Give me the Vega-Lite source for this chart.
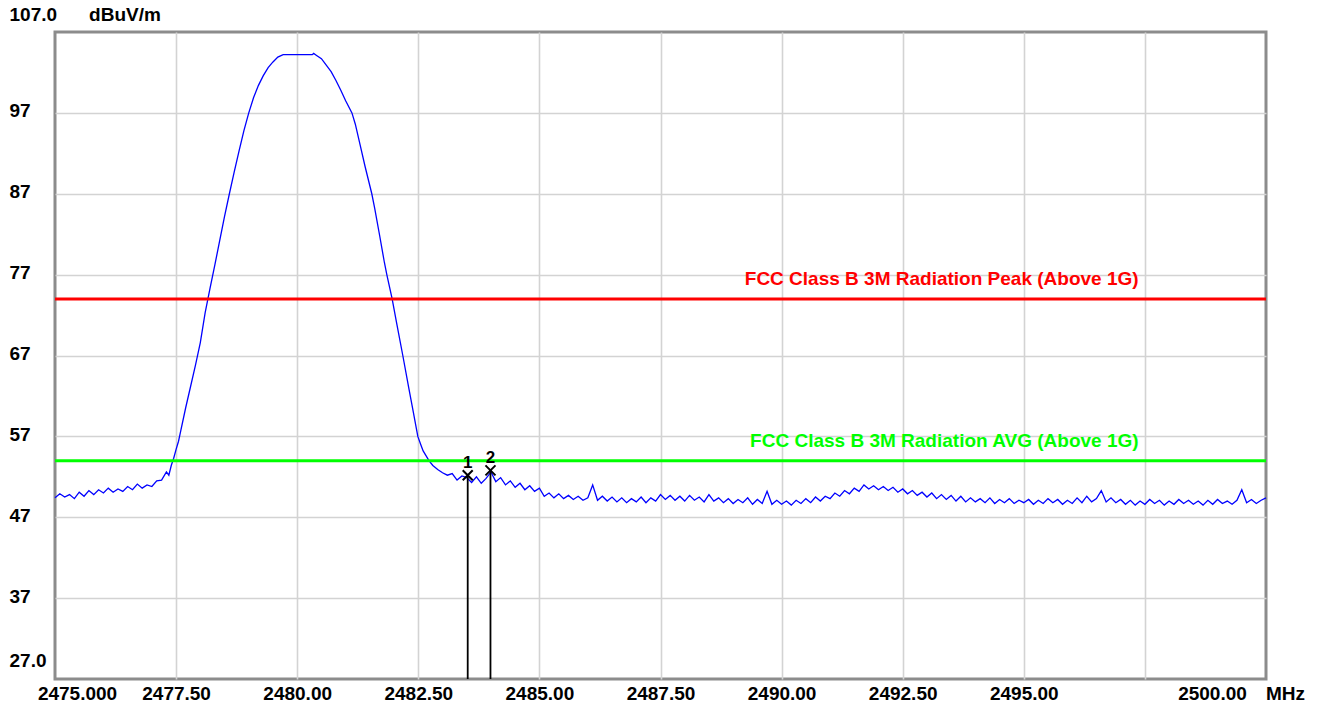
{
  "$schema": "https://vega.github.io/schema/vega-lite/v6.json",
  "width": 1211,
  "height": 647,
  "autosize": {"type": "none"},
  "padding": {"left": 55, "top": 32, "right": 57, "bottom": 25},
  "background": "white",
  "config": {
    "view": {"stroke": "#8c8c8c", "strokeWidth": 3},
    "font": "Liberation Sans"
  },
  "datasets": {
    "trace": [
      {"f": 2475.0, "v": 49.4}, {"f": 2475.1, "v": 49.9}, {"f": 2475.2, "v": 49.5}, {"f": 2475.3, "v": 49.8},
      {"f": 2475.4, "v": 49.3}, {"f": 2475.5, "v": 50.1}, {"f": 2475.6, "v": 49.6}, {"f": 2475.7, "v": 50.3},
      {"f": 2475.8, "v": 49.8}, {"f": 2475.9, "v": 50.4}, {"f": 2476.0, "v": 50.0}, {"f": 2476.1, "v": 50.6},
      {"f": 2476.2, "v": 50.1}, {"f": 2476.3, "v": 50.5}, {"f": 2476.4, "v": 50.2}, {"f": 2476.5, "v": 50.8},
      {"f": 2476.6, "v": 50.4}, {"f": 2476.7, "v": 51.1}, {"f": 2476.8, "v": 50.6}, {"f": 2476.9, "v": 51.0},
      {"f": 2477.0, "v": 50.8}, {"f": 2477.1, "v": 51.5}, {"f": 2477.2, "v": 51.6}, {"f": 2477.3, "v": 52.6},
      {"f": 2477.35, "v": 52.2}, {"f": 2477.4, "v": 53.4}, {"f": 2477.45, "v": 54.3}, {"f": 2477.5, "v": 55.4},
      {"f": 2477.55, "v": 56.4}, {"f": 2477.6, "v": 57.8}, {"f": 2477.7, "v": 60.6}, {"f": 2477.8, "v": 63.2},
      {"f": 2477.9, "v": 65.8}, {"f": 2478.0, "v": 68.6}, {"f": 2478.1, "v": 72.3}, {"f": 2478.2, "v": 75.3},
      {"f": 2478.3, "v": 78.2}, {"f": 2478.4, "v": 81.2}, {"f": 2478.5, "v": 84.2}, {"f": 2478.6, "v": 87.0},
      {"f": 2478.7, "v": 89.7}, {"f": 2478.8, "v": 92.3}, {"f": 2478.9, "v": 94.8}, {"f": 2479.0, "v": 97.0},
      {"f": 2479.1, "v": 98.9}, {"f": 2479.2, "v": 100.4}, {"f": 2479.3, "v": 101.6}, {"f": 2479.4, "v": 102.6},
      {"f": 2479.5, "v": 103.3}, {"f": 2479.6, "v": 103.9}, {"f": 2479.71, "v": 104.2}, {"f": 2480.0, "v": 104.2},
      {"f": 2480.31, "v": 104.2}, {"f": 2480.34, "v": 104.35}, {"f": 2480.4, "v": 104.1}, {"f": 2480.5, "v": 103.7},
      {"f": 2480.6, "v": 102.9}, {"f": 2480.7, "v": 102.1}, {"f": 2480.8, "v": 101.0}, {"f": 2480.9, "v": 99.8},
      {"f": 2481.0, "v": 98.5}, {"f": 2481.13, "v": 97.0}, {"f": 2481.2, "v": 95.6}, {"f": 2481.3, "v": 93.0},
      {"f": 2481.4, "v": 90.4}, {"f": 2481.54, "v": 87.0}, {"f": 2481.6, "v": 85.2}, {"f": 2481.7, "v": 81.9},
      {"f": 2481.8, "v": 78.5}, {"f": 2481.85, "v": 77.0}, {"f": 2481.96, "v": 74.0}, {"f": 2482.05, "v": 71.1},
      {"f": 2482.18, "v": 67.0}, {"f": 2482.3, "v": 63.1}, {"f": 2482.4, "v": 59.9}, {"f": 2482.49, "v": 57.0},
      {"f": 2482.55, "v": 56.0}, {"f": 2482.6, "v": 55.2}, {"f": 2482.72, "v": 54.0}, {"f": 2482.8, "v": 53.4},
      {"f": 2482.9, "v": 52.9}, {"f": 2483.0, "v": 52.5}, {"f": 2483.1, "v": 52.2}, {"f": 2483.2, "v": 52.4},
      {"f": 2483.3, "v": 51.6}, {"f": 2483.4, "v": 52.1}, {"f": 2483.5, "v": 51.9}, {"f": 2483.6, "v": 51.3},
      {"f": 2483.7, "v": 52.0}, {"f": 2483.8, "v": 51.2}, {"f": 2483.9, "v": 51.8}, {"f": 2484.0, "v": 52.6},
      {"f": 2484.1, "v": 51.4}, {"f": 2484.2, "v": 51.9}, {"f": 2484.3, "v": 51.0}, {"f": 2484.4, "v": 51.5},
      {"f": 2484.5, "v": 50.7}, {"f": 2484.6, "v": 51.2}, {"f": 2484.7, "v": 50.4}, {"f": 2484.8, "v": 50.9},
      {"f": 2484.9, "v": 50.2}, {"f": 2485.0, "v": 50.6}, {"f": 2485.1, "v": 49.6}, {"f": 2485.2, "v": 50.0},
      {"f": 2485.3, "v": 49.4}, {"f": 2485.4, "v": 49.9}, {"f": 2485.5, "v": 49.3}, {"f": 2485.6, "v": 49.7},
      {"f": 2485.7, "v": 49.2}, {"f": 2485.8, "v": 49.6}, {"f": 2485.9, "v": 49.1}, {"f": 2486.0, "v": 49.4},
      {"f": 2486.1, "v": 51.0}, {"f": 2486.2, "v": 49.1}, {"f": 2486.3, "v": 49.6}, {"f": 2486.4, "v": 49.0},
      {"f": 2486.5, "v": 49.5}, {"f": 2486.6, "v": 48.9}, {"f": 2486.7, "v": 49.4}, {"f": 2486.8, "v": 48.8},
      {"f": 2486.9, "v": 49.3}, {"f": 2487.0, "v": 48.9}, {"f": 2487.1, "v": 49.5}, {"f": 2487.2, "v": 48.8},
      {"f": 2487.3, "v": 49.4}, {"f": 2487.4, "v": 49.0}, {"f": 2487.5, "v": 49.8}, {"f": 2487.6, "v": 49.2},
      {"f": 2487.7, "v": 49.7}, {"f": 2487.8, "v": 49.1}, {"f": 2487.9, "v": 49.6}, {"f": 2488.0, "v": 49.0},
      {"f": 2488.1, "v": 49.7}, {"f": 2488.2, "v": 49.1}, {"f": 2488.3, "v": 49.5}, {"f": 2488.4, "v": 48.9},
      {"f": 2488.5, "v": 49.8}, {"f": 2488.6, "v": 49.0}, {"f": 2488.7, "v": 49.4}, {"f": 2488.8, "v": 48.8},
      {"f": 2488.9, "v": 49.3}, {"f": 2489.0, "v": 48.7}, {"f": 2489.1, "v": 49.2}, {"f": 2489.2, "v": 48.8},
      {"f": 2489.3, "v": 49.4}, {"f": 2489.4, "v": 48.6}, {"f": 2489.5, "v": 49.2}, {"f": 2489.6, "v": 48.7},
      {"f": 2489.7, "v": 50.2}, {"f": 2489.8, "v": 48.6}, {"f": 2489.9, "v": 49.1}, {"f": 2490.0, "v": 48.6},
      {"f": 2490.1, "v": 49.0}, {"f": 2490.2, "v": 48.5}, {"f": 2490.3, "v": 49.1}, {"f": 2490.4, "v": 48.7},
      {"f": 2490.5, "v": 49.3}, {"f": 2490.6, "v": 48.8}, {"f": 2490.7, "v": 49.5}, {"f": 2490.8, "v": 49.0},
      {"f": 2490.9, "v": 49.6}, {"f": 2491.0, "v": 49.3}, {"f": 2491.1, "v": 50.0}, {"f": 2491.2, "v": 49.6},
      {"f": 2491.3, "v": 50.3}, {"f": 2491.4, "v": 49.9}, {"f": 2491.5, "v": 50.6}, {"f": 2491.6, "v": 50.2},
      {"f": 2491.7, "v": 51.0}, {"f": 2491.8, "v": 50.5}, {"f": 2491.9, "v": 50.9}, {"f": 2492.0, "v": 50.4},
      {"f": 2492.1, "v": 50.8}, {"f": 2492.2, "v": 50.3}, {"f": 2492.3, "v": 50.7}, {"f": 2492.4, "v": 50.1},
      {"f": 2492.5, "v": 50.5}, {"f": 2492.6, "v": 49.9}, {"f": 2492.7, "v": 50.3}, {"f": 2492.8, "v": 49.7},
      {"f": 2492.9, "v": 50.1}, {"f": 2493.0, "v": 49.5}, {"f": 2493.1, "v": 50.0}, {"f": 2493.2, "v": 49.3},
      {"f": 2493.3, "v": 49.8}, {"f": 2493.4, "v": 49.2}, {"f": 2493.5, "v": 49.7}, {"f": 2493.6, "v": 49.0},
      {"f": 2493.7, "v": 49.6}, {"f": 2493.8, "v": 48.9}, {"f": 2493.9, "v": 49.4}, {"f": 2494.0, "v": 48.9},
      {"f": 2494.1, "v": 49.3}, {"f": 2494.2, "v": 48.8}, {"f": 2494.3, "v": 49.4}, {"f": 2494.4, "v": 48.7},
      {"f": 2494.5, "v": 49.2}, {"f": 2494.6, "v": 48.8}, {"f": 2494.7, "v": 49.3}, {"f": 2494.8, "v": 48.7},
      {"f": 2494.9, "v": 49.1}, {"f": 2495.0, "v": 48.8}, {"f": 2495.1, "v": 49.2}, {"f": 2495.2, "v": 48.6},
      {"f": 2495.3, "v": 49.1}, {"f": 2495.4, "v": 48.7}, {"f": 2495.5, "v": 49.3}, {"f": 2495.6, "v": 48.8},
      {"f": 2495.7, "v": 49.2}, {"f": 2495.8, "v": 48.6}, {"f": 2495.9, "v": 49.1}, {"f": 2496.0, "v": 48.7},
      {"f": 2496.1, "v": 49.4}, {"f": 2496.2, "v": 48.8}, {"f": 2496.3, "v": 49.6}, {"f": 2496.4, "v": 48.9},
      {"f": 2496.5, "v": 49.3}, {"f": 2496.6, "v": 50.3}, {"f": 2496.7, "v": 48.9}, {"f": 2496.8, "v": 49.4},
      {"f": 2496.9, "v": 48.8}, {"f": 2497.0, "v": 49.2}, {"f": 2497.1, "v": 48.6}, {"f": 2497.2, "v": 49.1},
      {"f": 2497.3, "v": 48.5}, {"f": 2497.4, "v": 49.0}, {"f": 2497.5, "v": 48.6}, {"f": 2497.6, "v": 49.2},
      {"f": 2497.7, "v": 48.7}, {"f": 2497.8, "v": 49.1}, {"f": 2497.9, "v": 48.5}, {"f": 2498.0, "v": 49.0},
      {"f": 2498.1, "v": 48.6}, {"f": 2498.2, "v": 49.2}, {"f": 2498.3, "v": 48.7}, {"f": 2498.4, "v": 49.1},
      {"f": 2498.5, "v": 48.6}, {"f": 2498.6, "v": 49.0}, {"f": 2498.7, "v": 48.5}, {"f": 2498.8, "v": 49.1},
      {"f": 2498.9, "v": 48.6}, {"f": 2499.0, "v": 49.2}, {"f": 2499.1, "v": 48.7}, {"f": 2499.2, "v": 49.0},
      {"f": 2499.3, "v": 48.6}, {"f": 2499.4, "v": 49.1}, {"f": 2499.5, "v": 50.4}, {"f": 2499.6, "v": 48.8},
      {"f": 2499.7, "v": 49.2}, {"f": 2499.8, "v": 48.7}, {"f": 2499.9, "v": 49.1}, {"f": 2500.0, "v": 49.4}
    ],
    "limits": [
      {"name": "FCC Class B 3M Radiation Peak (Above 1G)", "limit": 74},
      {"name": "FCC Class B 3M Radiation AVG (Above 1G)", "limit": 54}
    ],
    "markers": [
      {"marker": "1", "f": 2483.52, "v": 52.2},
      {"marker": "2", "f": 2483.99, "v": 52.8}
    ]
  },
  "layer": [
    {
      "data": {"name": "trace"},
      "mark": {"type": "line", "color": "#0000ff", "strokeWidth": 1.3},
      "encoding": {
        "x": {
          "field": "f", "type": "quantitative",
          "scale": {"domain": [2475, 2500], "nice": false, "zero": false},
          "axis": {
            "values": [2475, 2477.5, 2480, 2482.5, 2485, 2487.5, 2490, 2492.5, 2495, 2497.5, 2500],
            "labelExpr": "datum.value == 2475 ? '2475.000' : (datum.value == 2497.5 ? '' : format(datum.value, '.2f'))",
            "labelOffset": {"condition": [{"test": "datum.value == 2475", "value": 22}, {"test": "datum.value == 2500", "value": -54}], "value": 0},
            "labelFlush": false,
            "labelOverlap": false,
            "tickSize": 0,
            "ticks": false,
            "domain": false,
            "labelPadding": 5,
            "labelBaseline": "top",
            "labelFont": "Liberation Sans",
            "labelFontSize": 19,
            "labelFontWeight": "bold",
            "labelColor": "#000000",
            "gridColor": "#d3d3d3",
            "gridWidth": 1.6,
            "gridOpacity": {"condition": {"test": "datum.value == 2475 || datum.value == 2500", "value": 0}, "value": 1},
            "title": "MHz",
            "titleX": 1230,
            "titleY": 5,
            "titleAlign": "center",
            "titleBaseline": "top",
            "titleFont": "Liberation Sans",
            "titleFontSize": 19,
            "titleFontWeight": "bold",
            "titleColor": "#000000"
          }
        },
        "y": {
          "field": "v", "type": "quantitative",
          "scale": {"domain": [27, 107], "nice": false, "zero": false},
          "axis": {
            "values": [27, 37, 47, 57, 67, 77, 87, 97, 107],
            "labelExpr": "datum.value == 27 ? '27.0' : (datum.value == 107 ? '107.0' : format(datum.value, 'd'))",
            "labelOffset": {"condition": [{"test": "datum.value == 27", "value": -19}, {"test": "datum.value == 107", "value": -18}], "value": -2},
            "labelAlign": "left",
            "labelBaseline": "middle",
            "labelPadding": 46,
            "tickSize": 0,
            "ticks": false,
            "domain": false,
            "labelFont": "Liberation Sans",
            "labelFontSize": 19,
            "labelFontWeight": "bold",
            "labelColor": "#000000",
            "gridColor": "#d3d3d3",
            "gridWidth": 1.6,
            "gridOpacity": {"condition": {"test": "datum.value == 27 || datum.value == 107", "value": 0}, "value": 1},
            "title": "dBuV/m",
            "titleAngle": 0,
            "titleX": 69.5,
            "titleY": -18,
            "titleAlign": "center",
            "titleBaseline": "middle",
            "titleFont": "Liberation Sans",
            "titleFontSize": 19,
            "titleFontWeight": "bold",
            "titleColor": "#000000"
          }
        }
      }
    },
    {
      "data": {"name": "limits"},
      "mark": {"type": "rule", "strokeWidth": 3},
      "encoding": {
        "y": {"field": "limit", "type": "quantitative"},
        "color": {"field": "name", "type": "nominal", "legend": null,
          "scale": {"domain": ["FCC Class B 3M Radiation Peak (Above 1G)", "FCC Class B 3M Radiation AVG (Above 1G)"], "range": ["#ff0000", "#00ff00"]}}
      }
    },
    {
      "data": {"name": "limits"},
      "mark": {"type": "text", "align": "right", "baseline": "alphabetic", "dy": -14, "font": "Liberation Sans", "fontSize": 19, "fontWeight": "bold"},
      "encoding": {
        "x": {"datum": 2497.37},
        "y": {"field": "limit", "type": "quantitative"},
        "text": {"field": "name"},
        "color": {"field": "name", "type": "nominal", "legend": null,
          "scale": {"domain": ["FCC Class B 3M Radiation Peak (Above 1G)", "FCC Class B 3M Radiation AVG (Above 1G)"], "range": ["#ff0000", "#00ff00"]}}
      }
    },
    {
      "data": {"name": "markers"},
      "mark": {"type": "rule", "color": "#000000", "strokeWidth": 1.8},
      "encoding": {
        "x": {"field": "f", "type": "quantitative"},
        "y": {"field": "v", "type": "quantitative"},
        "y2": {"datum": 27}
      }
    },
    {
      "data": {"name": "markers"},
      "mark": {"type": "point", "shape": "M-1,-1L1,1M-1,1L1,-1", "size": 100, "filled": false, "color": "#000000", "strokeWidth": 2, "opacity": 1},
      "encoding": {
        "x": {"field": "f", "type": "quantitative"},
        "y": {"field": "v", "type": "quantitative"}
      }
    },
    {
      "data": {"name": "markers"},
      "mark": {"type": "text", "baseline": "middle", "align": "center", "dy": -12, "font": "Liberation Sans", "fontSize": 17, "fontWeight": "bold", "color": "#000000"},
      "encoding": {
        "x": {"field": "f", "type": "quantitative"},
        "y": {"field": "v", "type": "quantitative"},
        "text": {"field": "marker"}
      }
    }
  ]
}
